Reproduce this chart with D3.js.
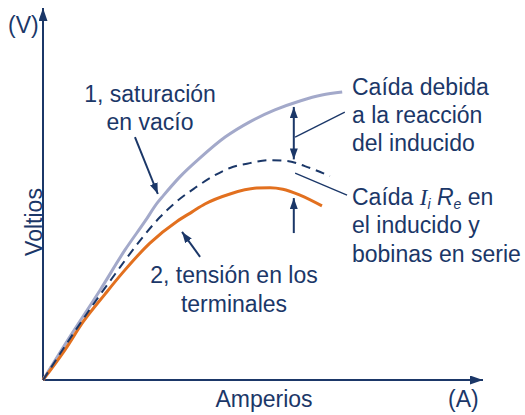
<!DOCTYPE html>
<html>
<head>
<meta charset="utf-8">
<script src="https://cdn.jsdelivr.net/npm/d3@7"></script>
<style>
  body { margin: 0; background: #fff; }
  text { font-family: "Liberation Sans", Arial, sans-serif; font-size: 23px; fill: #1b3768; }
</style>
</head>
<body>
<div id="chart"></div>
<script>
// curves, in (amperes, volts) arbitrary units 0..100
const saturacion = [
  [0, 0], [6.1, 11.6], [13.0, 24.2], [18.6, 34.9], [23.2, 42.7], [26.1, 47.8],
  [27.3, 49.5], [31.1, 54.6], [35.7, 59.7], [41.4, 65.3], [47.0, 69.4],
  [52.7, 72.6], [58.4, 75.0], [63.4, 76.6], [68.0, 77.4]
];
const sinResistencia = [
  [0, 0], [5.0, 9.1], [10.7, 19.1], [16.4, 28.5], [22.0, 37.4], [26.6, 43.8],
  [30.5, 48.1], [34.5, 51.6], [38.4, 54.6], [42.5, 57.0], [47.0, 58.3],
  [51.6, 59.1], [55.5, 58.9], [59.5, 57.5], [65.2, 54.8]
];
const terminales = [
  [0, 0], [5.0, 8.1], [9.1, 15.6], [14.1, 23.1], [18.2, 29.0], [24.3, 36.8],
  [30.5, 42.7], [33.9, 45.2], [36.8, 47.3], [42.5, 50.0], [48.6, 51.6],
  [51.6, 51.7], [54.5, 51.3], [58.4, 49.7], [63.4, 46.8]
];

// annotation arrows and leader lines [x1, y1, x2, y2] in the same units
const dobleFlecha = [57.0, 59.3, 57.0, 73.4];
const flechaArriba = [57.0, 39.5, 57.0, 48.9];
const flechaSaturacion = [20.9, 65.3, 26.1, 50.0];
const flechaTension = [35.7, 33.1, 31.6, 39.8];
const guias = [
  [57.3, 65.3, 68.6, 72.0],
  [57.3, 55.6, 69.1, 49.7]
];

const width = 525, height = 415;
const navy = '#1b3768', gris = '#a3a9ca', naranja = '#e2701f';

const x = d3.scaleLinear().domain([0, 100]).range([43, 483]);
const y = d3.scaleLinear().domain([0, 100]).range([380, 8]);

const svg = d3.select('#chart').append('svg')
    .attr('width', width)
    .attr('height', height);

const defs = svg.append('defs');
function marker(id, w, h) {
  defs.append('marker')
      .attr('id', id)
      .attr('viewBox', `0 0 ${w} ${h}`)
      .attr('refX', w).attr('refY', h / 2)
      .attr('markerWidth', w).attr('markerHeight', h)
      .attr('markerUnits', 'userSpaceOnUse')
      .attr('orient', 'auto-start-reverse')
    .append('path')
      .attr('d', `M0,0L${w},${h / 2}L0,${h}Z`)
      .attr('fill', navy);
}
marker('ejeFlecha', 13, 9);
marker('flecha', 11, 8);

// axes
svg.append('line')
    .attr('x1', x(0)).attr('y1', y(0)).attr('x2', x(0)).attr('y2', y(100))
    .attr('stroke', navy).attr('stroke-width', 2)
    .attr('marker-end', 'url(#ejeFlecha)');
svg.append('line')
    .attr('x1', x(0)).attr('y1', y(0)).attr('x2', x(100)).attr('y2', y(0))
    .attr('stroke', navy).attr('stroke-width', 2)
    .attr('marker-end', 'url(#ejeFlecha)');

const line = d3.line()
    .x(d => x(d[0]))
    .y(d => y(d[1]))
    .curve(d3.curveMonotoneX);

svg.append('path')
    .attr('d', line(saturacion))
    .attr('fill', 'none').attr('stroke', gris).attr('stroke-width', 3);
svg.append('path')
    .attr('d', line(terminales))
    .attr('fill', 'none').attr('stroke', naranja).attr('stroke-width', 3);
svg.append('path')
    .attr('d', line(sinResistencia))
    .attr('fill', 'none').attr('stroke', navy).attr('stroke-width', 2)
    .attr('stroke-dasharray', '9,6');

// arrows
function flecha(a, both) {
  const l = svg.append('line')
      .attr('x1', x(a[0])).attr('y1', y(a[1]))
      .attr('x2', x(a[2])).attr('y2', y(a[3]))
      .attr('stroke', navy).attr('stroke-width', 2)
      .attr('marker-end', 'url(#flecha)');
  if (both) l.attr('marker-start', 'url(#flecha)');
}
flecha(dobleFlecha, true);
flecha(flechaArriba, false);
flecha(flechaSaturacion, false);
flecha(flechaTension, false);

svg.selectAll('.guia')
    .data(guias)
    .enter()
    .append('line')
    .attr('class', 'guia')
    .attr('x1', d => x(d[0])).attr('y1', d => y(d[1]))
    .attr('x2', d => x(d[2])).attr('y2', d => y(d[3]))
    .attr('stroke', navy).attr('stroke-width', 1.3);

// labels
function label(txt, px, py, anchor) {
  return svg.append('text')
      .attr('x', px).attr('y', py)
      .attr('text-anchor', anchor || 'start')
      .text(txt);
}
label('(V)', 8, 33);
label('(A)', 448, 407);
label('Amperios', 264, 407, 'middle');
svg.append('text')
    .attr('transform', 'translate(42,222) rotate(-90)')
    .attr('text-anchor', 'middle')
    .text('Voltios');

label('1, saturación', 150, 102, 'middle');
label('en vacío', 150, 130, 'middle');
label('2, tensión en los', 234, 283, 'middle');
label('terminales', 234, 312, 'middle');

label('Caída debida', 352, 95);
label('a la reacción', 352, 123);
label('del inducido', 352, 151);

const t = svg.append('text').attr('x', 352).attr('y', 205);
t.append('tspan').text('Caída ');
t.append('tspan').text('I')
    .style('font-family', '"Liberation Serif", serif').style('font-style', 'italic');
t.append('tspan').text('i')
    .style('font-size', '14px').style('font-style', 'italic').attr('dy', 4);
t.append('tspan').text(' ').attr('dy', -4);
t.append('tspan').text('R').style('font-style', 'italic');
t.append('tspan').text('e')
    .style('font-size', '14px').style('font-style', 'italic').attr('dy', 4);
t.append('tspan').text(' en').attr('dy', -4);
label('el inducido y', 352, 233);
label('bobinas en serie', 352, 262);
</script>
</body>
</html>
